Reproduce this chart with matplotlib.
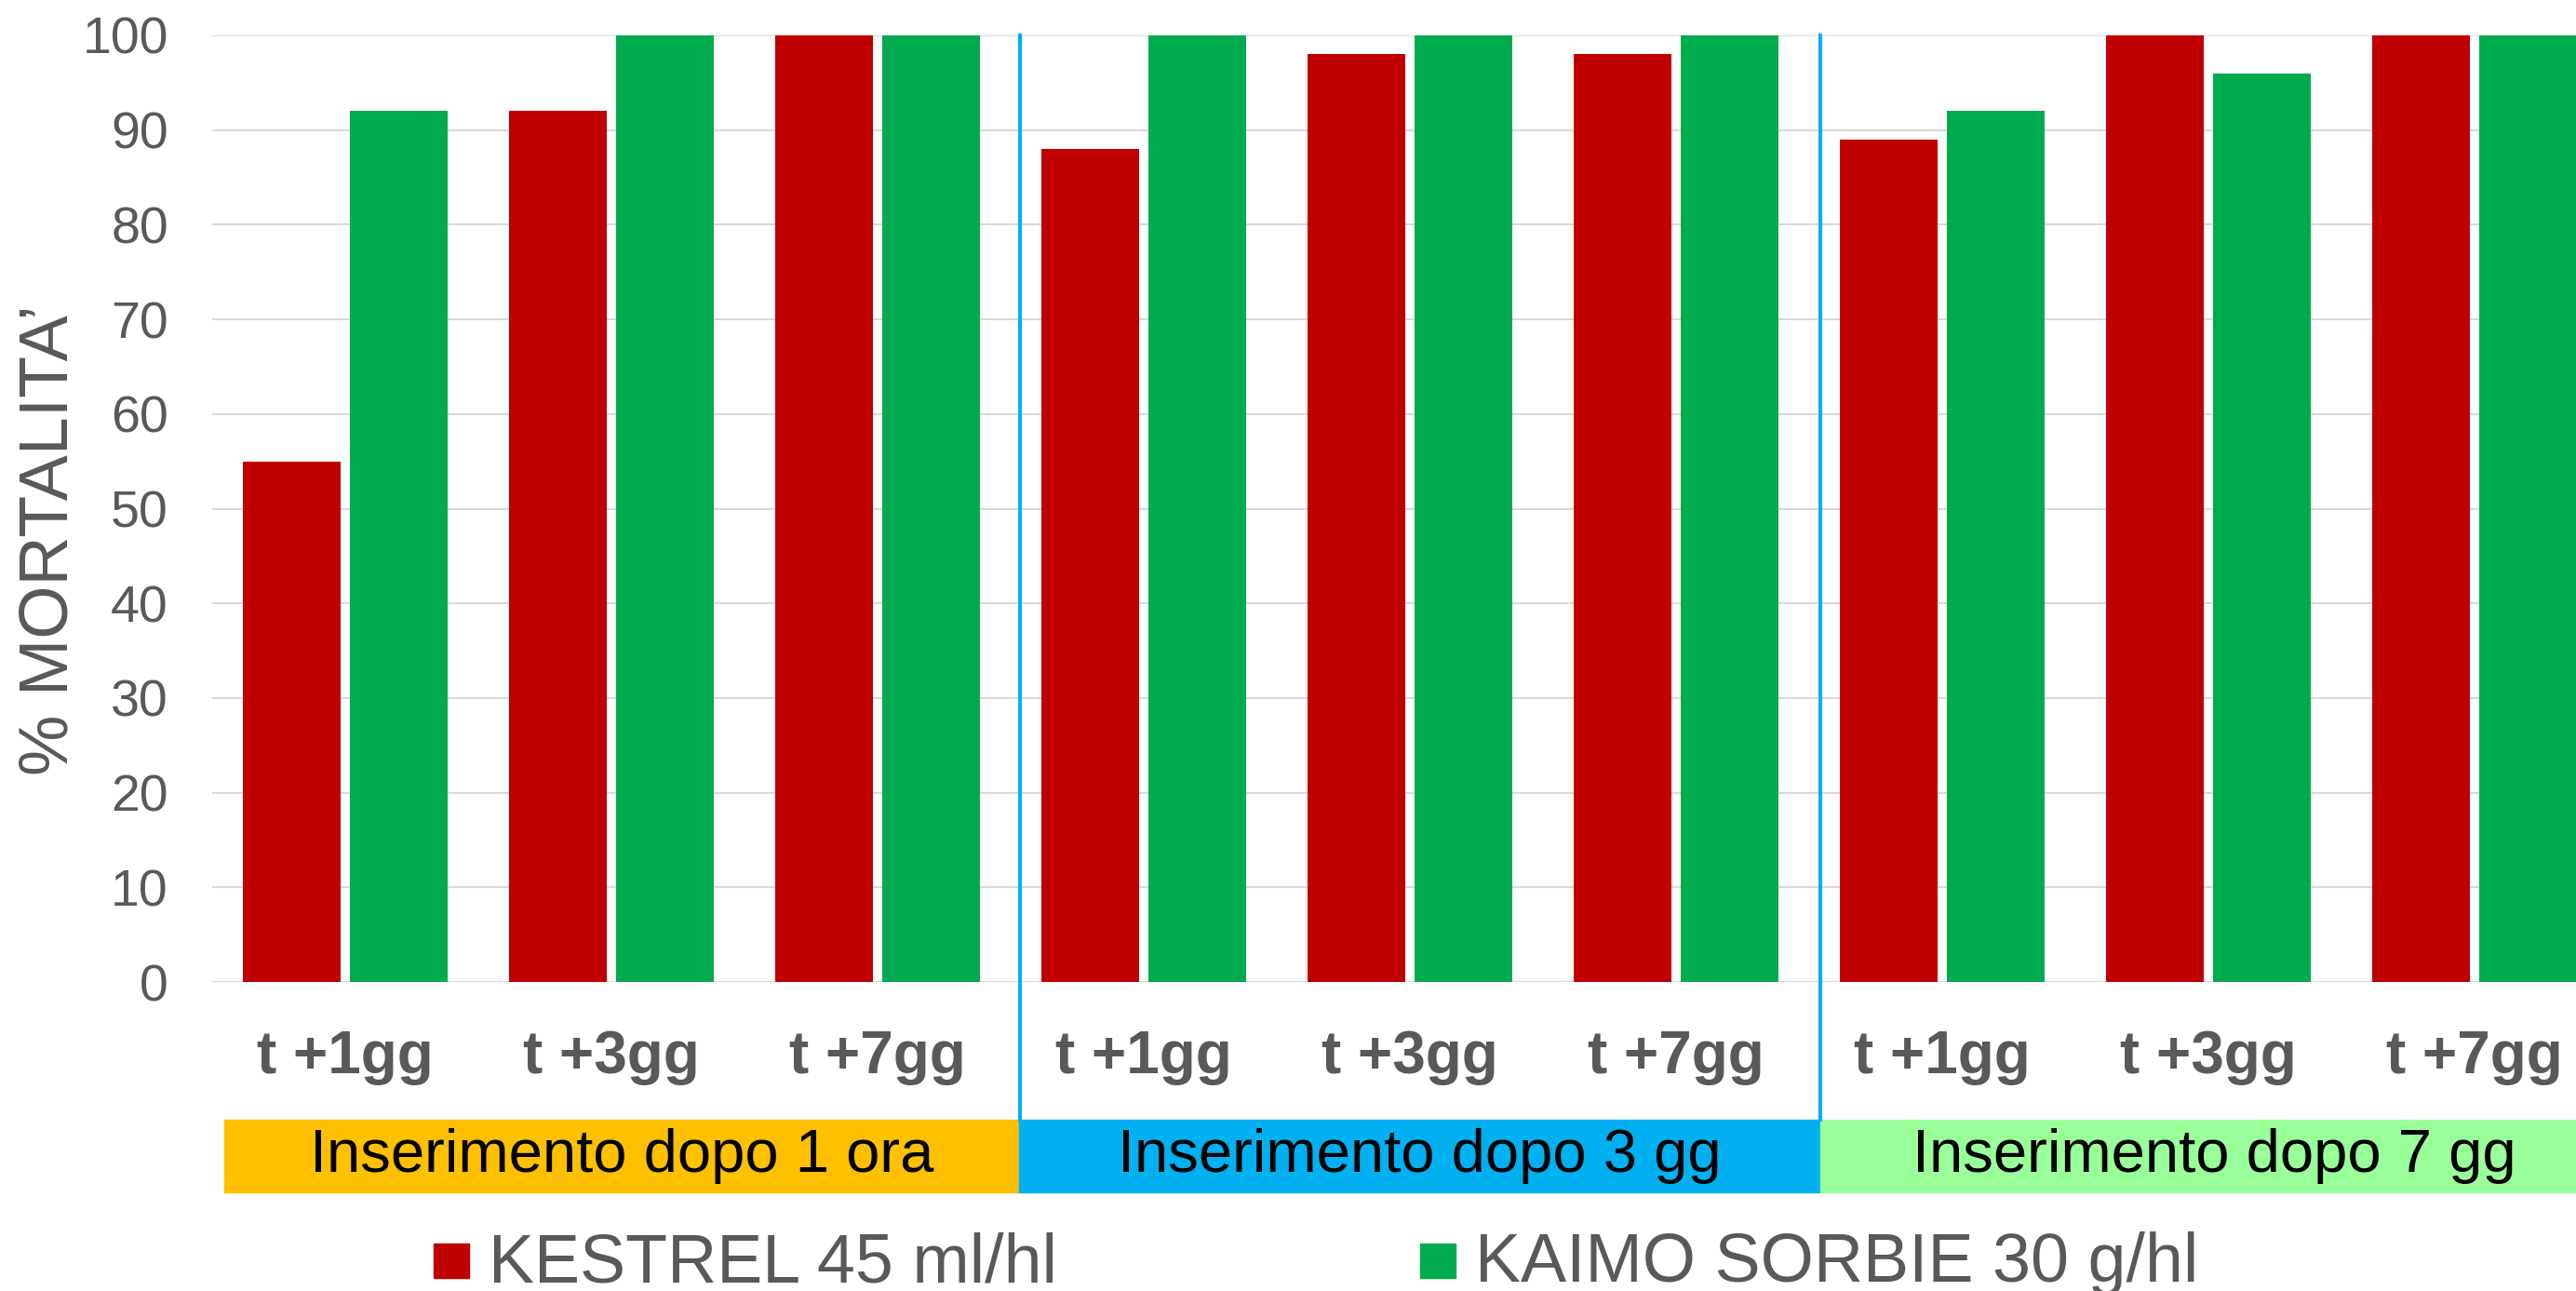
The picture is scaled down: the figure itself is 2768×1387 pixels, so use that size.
import numpy as np
import matplotlib
matplotlib.use("Agg")
import matplotlib.pyplot as plt
from matplotlib.patches import Rectangle
from matplotlib.transforms import blended_transform_factory

plt.rcParams['font.family'] = ['Liberation Sans', 'DejaVu Sans']

# Data
tick_labels = ["t +1gg", "t +3gg", "t +7gg"] * 3
kestrel = [55, 92, 100, 88, 98, 98, 89, 100, 100]
kaimo = [92, 100, 100, 100, 100, 100, 92, 96, 100]
series_names = ["KESTREL 45 ml/hl", "KAIMO SORBIE 30 g/hl"]
group_names = ["Inserimento dopo 1 ora", "Inserimento dopo 3 gg", "Inserimento dopo 7 gg"]

red = "#C00000"
green = "#00AB4F"
grey = "#595959"
band_colors = ["#FFC000", "#00B0F0", "#99FF99"]

W, H = 2768, 1387
fig = plt.figure(figsize=(W / 100, H / 100), dpi=100)
ax = fig.add_axes([228 / W, 1 - 1055 / H, 2574 / W, 1017 / H])

x = np.arange(len(kestrel))
bw = 0.367
ax.bar(x - 0.2, kestrel, bw, color=red, zorder=3, label=series_names[0])
ax.bar(x + 0.2, kaimo, bw, color=green, zorder=3, label=series_names[1])

ax.set_xlim(-0.5, 8.5)
ax.set_ylim(0, 100)
ax.set_yticks(range(0, 101, 10))
ax.set_xticks(x)
ax.set_xticklabels(tick_labels, fontsize=46, fontweight='bold', color=grey)
ax.tick_params(axis='x', length=0, pad=37)
ax.tick_params(axis='y', length=0, pad=34, labelsize=40, labelcolor=grey)
ax.grid(axis='y', color='#D9D9D9', linewidth=1.5, zorder=0)
for s in ax.spines.values():
    s.set_visible(False)
ax.axhline(0, color='#D9D9D9', linewidth=1.5, zorder=2)

# group bands under the tick labels
tr = blended_transform_factory(ax.transData, ax.transAxes)
edges = [-0.4545, 2.53, 5.542, 8.5]
band_y0, band_y1 = -0.2222, -0.1455
for i in range(3):
    ax.add_patch(Rectangle((edges[i], band_y0), edges[i + 1] - edges[i], band_y1 - band_y0,
                           transform=tr, color=band_colors[i], clip_on=False, zorder=1))
    ax.text((edges[i] + edges[i + 1]) / 2, (band_y0 + band_y1) / 2, group_names[i],
            transform=tr, ha='center', va='center', fontsize=47, color='black')

# separators between groups
for xs in [2.535, 5.542]:
    ax.plot([xs, xs], [band_y1, 1.0], transform=tr, color='#00B0F0', linewidth=3,
            clip_on=False, zorder=4)

fig.text(53 / W, 1 - 580 / H, "% MORTALITA\u2019", rotation=90, ha='center', va='center',
         fontsize=53, color=grey)

# legend
for sx, tx, col, name in [(466, 525, red, series_names[0]), (1526, 1585, green, series_names[1])]:
    fig.patches.append(Rectangle((sx / W, 1 - 1373 / H), 38 / W, 37 / H,
                                 transform=fig.transFigure, color=col))
    fig.text(tx / W, 1 - 1377 / H, name, ha='left', va='baseline', fontsize=53, color=grey)

fig.savefig("out.png", dpi=100)
